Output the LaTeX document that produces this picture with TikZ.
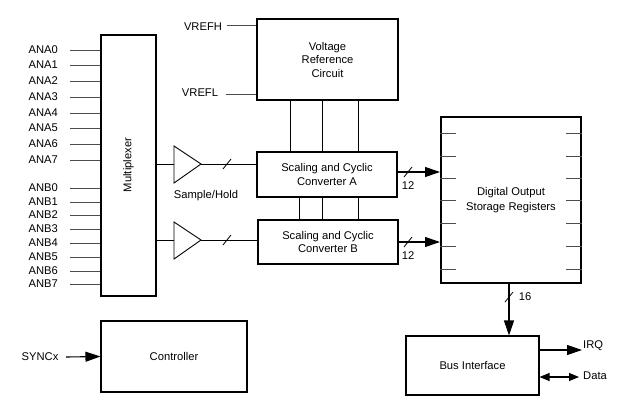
\documentclass[tikz,border=0pt]{standalone}
\usepackage{fontspec}
\setmainfont{Liberation Sans}
\usetikzlibrary{arrows.meta}
\begin{document}
\begin{tikzpicture}[x=1pt,y=-1pt,
  every node/.style={font=\fontsize{11.2}{12.5}\selectfont, inner sep=0pt},
  blk/.style={draw, line width=1.1pt, align=center},
  thk/.style={draw, line width=2pt, align=center},
  wire/.style={line width=0.9pt},
  stub/.style={line width=0.9pt, draw=black!70},
  arr/.style={line width=1.1pt, -{Triangle[length=15pt,width=10pt]}},
  darr/.style={line width=1.1pt, {Triangle[length=10pt,width=8pt]}-{Triangle[length=10pt,width=8pt]}},
  slash/.style={line width=0.8pt}]
\useasboundingbox (0,0) rectangle (618,405);
\fill[white] (0,0) rectangle (618,405);

% blocks
\node[thk, minimum width=55pt, minimum height=261pt] (mux) at (128.5,165.5) {};
\node[rotate=90] (muxt) at (128.5,165) {Multiplexer};
\node[blk, minimum width=141pt, minimum height=81pt] (vref) at (327.5,59.5) {Voltage\\[1pt]Reference\\[1pt]Circuit};
\node[blk, minimum width=140pt, minimum height=45pt] (cva) at (327,174.5) {Scaling and Cyclic\\[1pt]Converter A};
\node[blk, minimum width=140pt, minimum height=44pt] (cvb) at (328,242) {Scaling and Cyclic\\[1pt]Converter B};
\node[thk, minimum width=140pt, minimum height=166pt] (dosr) at (511,200) {Digital Output\\[2pt]Storage Registers};
\node[blk, minimum width=133pt, minimum height=59pt] (bus) at (472.5,365.5) {Bus Interface};
\node[blk, minimum width=146pt, minimum height=71pt] (ctrl) at (174,356.5) {Controller};

% analog inputs
\foreach \n/\y in {0/50,1/65,2/81,3/97,4/113,5/128,6/144,7/160}{
  \node[anchor=east] (ana\n) at (58,\y) {ANA\n};
  \draw[stub] ([xshift=12pt]ana\n.east) -- (mux.west |- ana\n);
}
\foreach \n/\y in {0/188,1/202,2/215,3/229,4/243,5/257,6/271,7/284}{
  \node[anchor=east] (anb\n) at (58,\y) {ANB\n};
  \draw[stub] ([xshift=12pt]anb\n.east) -- (mux.west |- anb\n);
}

% sample/hold triangles
\coordinate (sh1in) at (174,164);
\coordinate (sh1out) at (201,164);
\coordinate (sh2in) at (174,240);
\coordinate (sh2out) at (201,240);
\draw[wire] (174,146) -- (201,164) -- (174,183) -- cycle;
\draw[wire] (174,222) -- (201,240) -- (174,259) -- cycle;
\draw[wire] (mux.east |- sh1in) -- (sh1in);
\draw[wire] (mux.east |- sh2in) -- (sh2in);
\draw[wire] (sh1out) -- (sh1out -| cva.west);
\draw[wire] (sh2out) -- (sh2out -| cvb.west);
\draw[slash] (223,169) -- (231,159);
\draw[slash] (223,245) -- (231,235);
\node (shl) at (206,196) {Sample/Hold};

% vref inputs
\node (vrefh) at (203,27) {VREFH};
\node (vrefl) at (200,93) {VREFL};
\draw[stub] (227,25) -- (vref.west |- 0,25);
\draw[stub] (226,94) -- (vref.west |- 0,94);

% vref to converters
\foreach \x in {290,322,358}{
  \draw[wire] (vref.south -| \x,0) -- (cva.north -| \x,0);
}
\foreach \x in {299,322,358}{
  \draw[wire] (cva.south -| \x,0) -- (cvb.north -| \x,0);
}

% converter outputs
\coordinate (oa) at (0,172);
\coordinate (ob) at (0,242);
\draw[arr] (cva.east |- oa) -- (dosr.west |- oa);
\draw[arr] (cvb.east |- ob) -- (dosr.west |- ob);
\draw[slash] (404,177) -- (412,167);
\draw[slash] (404,247) -- (412,237);
\node (n12a) at (408,186) {12};
\node (n12b) at (408,256) {12};

% register stubs
\foreach \y in {133,156,178,200,223,246,269}{
  \draw[stub] (dosr.west |- 0,\y) -- ++(16,0);
  \draw[stub] (dosr.east |- 0,\y) -- ++(-16,0);
}

% to bus interface
\coordinate (dn) at (509,0);
\draw[arr] (dosr.south -| dn) -- (bus.north -| dn);
\draw[slash] (505,302) -- (513,292);
\node (n16) at (525,297) {16};

% bus outputs
\node[anchor=west] (irq) at (583,346) {IRQ};
\node[anchor=west] (data) at (583,376) {Data};
\draw[arr] (bus.east |- 0,350) -- (582,350);
\draw[darr] (bus.east |- 0,377) -- (579,377);

% controller
\node (sync) at (40,357) {SYNCx};
\draw[arr] (66,357) -- (ctrl.west);
\end{tikzpicture}
\end{document}
